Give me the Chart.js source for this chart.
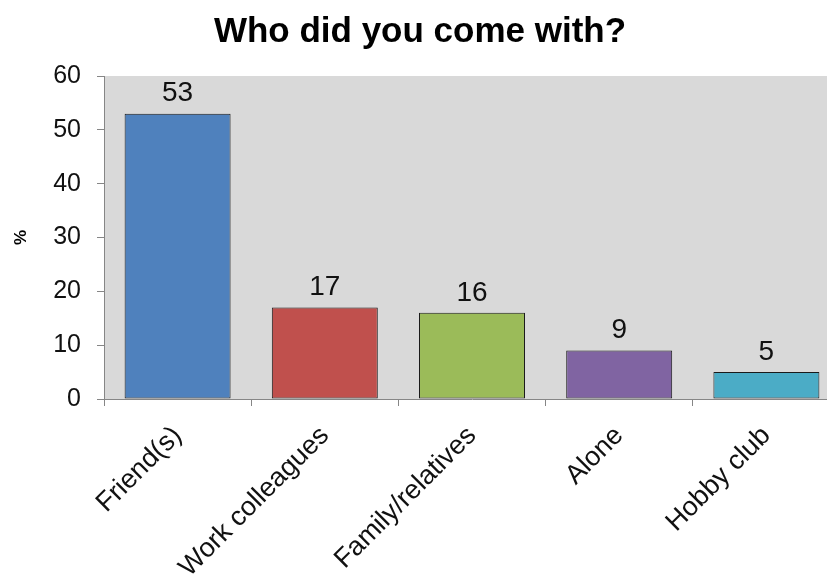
<!DOCTYPE html>
<html>
<head>
<meta charset="utf-8">
<title>Who did you come with?</title>
<script src="https://cdn.jsdelivr.net/npm/chart.js@4/dist/chart.umd.min.js"></script>
<style>
  html, body { margin: 0; padding: 0; background: #fff; overflow: hidden; }
  #wrap { width: 840px; height: 578px; }
</style>
</head>
<body>
<div id="wrap"><canvas id="chart" width="840" height="578"></canvas></div>
<script>
const categories = ['Friend(s)', 'Work colleagues', 'Family/relatives', 'Alone', 'Hobby club'];
const percentages = [53, 17, 16, 9, 5];
const barColors = ['#4F81BD', '#C0504D', '#9BBB59', '#8064A2', '#4BACC6'];
const yTicks = [0, 10, 20, 30, 40, 50, 60];

const FONT = "'Liberation Sans', Arial, sans-serif";
const AXIS_GRAY = '#868686';

// grey plot area behind the bars
const plotBackground = {
  id: 'plotBackground',
  beforeDraw(chart) {
    const { ctx, chartArea: a } = chart;
    ctx.save();
    ctx.fillStyle = '#D9D9D9';
    ctx.fillRect(a.left, a.top, a.right - a.left, a.bottom - a.top);
    ctx.restore();
  }
};

// value printed above each bar
const valueLabels = {
  id: 'valueLabels',
  afterDatasetsDraw(chart) {
    const { ctx } = chart;
    const meta = chart.getDatasetMeta(0);
    ctx.save();
    ctx.font = `28px ${FONT}`;
    ctx.fillStyle = '#111';
    ctx.textAlign = 'center';
    ctx.textBaseline = 'middle';
    meta.data.forEach((bar, i) => {
      ctx.fillText(String(percentages[i]), bar.x, bar.y - 20);
    });
    ctx.restore();
  }
};

new Chart(document.getElementById('chart'), {
  type: 'bar',
  data: {
    labels: categories,
    datasets: [{
      data: percentages,
      backgroundColor: barColors,
      borderColor: '#1a1a1a',
      borderWidth: 1,
      borderSkipped: false,
      barPercentage: 0.72,
      categoryPercentage: 1
    }]
  },
  options: {
    responsive: false,
    animation: false,
    layout: { padding: 0 },
    plugins: {
      legend: { display: false },
      tooltip: { enabled: false },
      title: {
        display: true,
        text: 'Who did you come with?',
        color: '#000',
        font: { family: FONT, size: 35, weight: 'bold', lineHeight: 1.2 },
        padding: { top: 11, bottom: 23 }
      }
    },
    scales: {
      x: {
        grid: { display: true, drawOnChartArea: false, offset: true, tickLength: 7, color: AXIS_GRAY },
        border: { display: true, color: AXIS_GRAY, width: 1 },
        ticks: {
          color: '#111',
          font: { family: FONT, size: 27 },
          minRotation: 45,
          maxRotation: 45,
          padding: 14
        },
        afterFit(scale) { scale.height = 578 - 399; }
      },
      y: {
        min: 0,
        max: 60,
        afterBuildTicks(scale) { scale.ticks = yTicks.map(v => ({ value: v })); },
        grid: { display: true, drawOnChartArea: false, tickLength: 7, color: AXIS_GRAY },
        border: { display: true, color: AXIS_GRAY, width: 1 },
        ticks: {
          color: '#111',
          font: { family: FONT, size: 25 },
          padding: 16
        },
        title: {
          display: true,
          text: '%',
          color: '#000',
          font: { family: FONT, size: 17, weight: 'bold' },
          padding: { top: 11, bottom: 0 }
        },
        afterFit(scale) { scale.width = 104; }
      }
    }
  },
  plugins: [plotBackground, valueLabels]
});
</script>
</body>
</html>
